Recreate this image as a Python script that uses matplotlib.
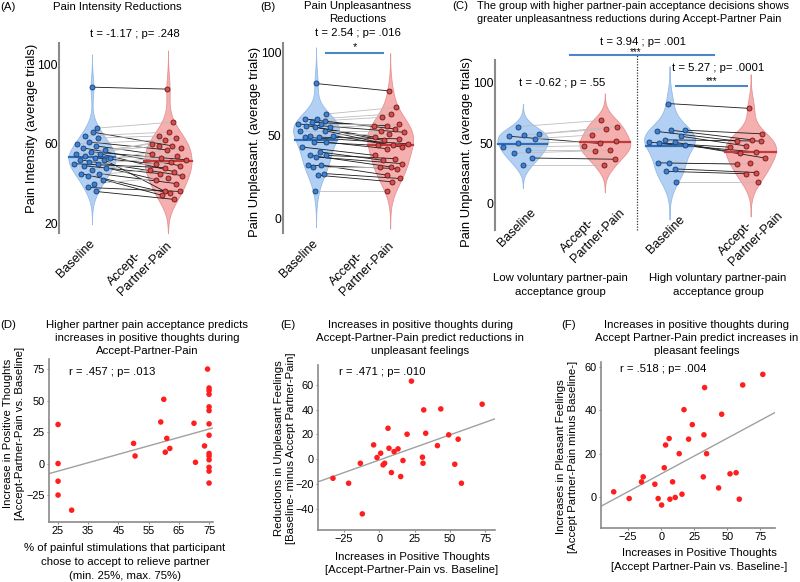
import numpy as np
import matplotlib
matplotlib.use("Agg")
import matplotlib.pyplot as plt

plt.rcParams['font.family'] = ['Liberation Sans', 'DejaVu Sans']
plt.rcParams['font.size'] = 8

W, H = 800, 582

# ---- violin panels: paired values (baseline, accept-partner-pain) ----
a_base = [88.7, 68, 66, 64, 63, 61, 60, 59, 58, 57, 56, 55, 55, 54, 53, 53, 52, 52, 51, 50,
          50, 49, 48, 47, 45, 45, 44, 42, 40, 38, 36]
a_acc = [87.7, 71, 59, 66, 64, 57, 62, 55, 49, 60, 52, 59, 46, 63, 54, 50, 44, 36, 58, 48,
         53, 45, 42, 51, 35, 40, 47, 34, 43, 36, 32]

b_base = [81.5, 63, 60, 60, 59, 58, 57, 57, 56, 55, 55, 53, 53, 50, 50, 49, 49, 46, 46, 43,
          40, 38, 38, 37, 32, 32, 31, 26, 27, 16.5]
b_acc = [77, 67, 63, 54, 61, 56, 52, 57, 49, 56, 47, 53, 44, 51, 43, 48, 45, 42, 44, 38,
         35, 31, 36, 33, 30, 26, 31, 22, 24, 16.5]

low_base = [64, 58, 57, 56, 54, 50, 47, 45, 42, 38, 32]
low_acc = [69, 64, 62, 50, 57, 52, 48, 45, 44, 37, 32]
high_base = [83, 61, 61, 60, 56, 53, 51, 51, 50, 49, 34, 34, 29, 27, 18]
high_acc = [79, 58, 53, 52, 48, 52, 47, 42, 43, 38, 34, 33, 26, 25, 18]

cond_labels = ["Baseline", "Accept-\nPartner-Pain"]

# ---- scatter panels ----
d_x = [25, 25, 25, 25, 29.5, 50, 50.5, 60, 59, 61, 60.5, 62, 70, 70.5, 73.5, 74.5, 75, 75,
       75, 75, 75, 75, 75, 75, 75, 75, 75, 75, 75]
d_y = [31, 0, -14, -25, -37, 16, 6, 51, 33, 20, 9, 12, 32, 1, 14, 75, 60, 58, 55, 45, 42,
       31.5, 22.5, 8, 6, 3, -3, -6, -15.5]
d_fit = [0.668, -22.7]

e_x = [-32.8, -21.7, -13.4, -12, -4, -1.6, 1, 2.7, 3.8, 6.2, 6.9, 8.6, 10.5, 13.3, 15.2,
       16.8, 19.7, 22.8, 30.6, 31, 31.5, 32.9, 41.2, 43.6, 49.2, 53.5, 55.9, 58.2, 72.9]
e_y = [-15.3, -19.3, -3.2, -44, 11.6, 1.4, 4.9, -4.5, -3.2, 25, 8.9, -10.7, 6.2, 8.4, -13.9,
       -1, 20.2, 63, 1.7, -3.2, 39.8, 21, 11, 40.6, 19.7, -4, 16.2, -19.3, 44.4]
e_fit = [0.405, -0.6]

f_x = [-35.9, -24.2, -14.9, -13.6, -4.8, -2.3, 0.3, 2.3, 3.3, 6, 6.6, 8.6, 10.6, 13.6, 15.7,
       17.2, 20.7, 23.5, 31.8, 32.3, 32.8, 34.3, 43.4, 45.7, 52, 56.6, 59, 61.6, 76.8]
f_y = [2.4, -0.7, 7, 9.3, 5.9, -0.7, -3.7, 13.5, 24, 27, -1, 7, -0.2, 20, 1.3, 40.3, 26.7,
       33.4, 9.3, 28.7, 50.5, 20, 4.2, 38.2, 10.7, 11.2, -1, 51.7, 56.6]
f_fit = [0.329, 10.7]

BLUE_FILL, BLUE_EDGE, BLUE_PT, BLUE_PTE, BLUE_MEAN = '#a9cbf2', '#8fb6e6', '#3f7fcc', '#173f78', '#2f6cb8'
RED_FILL, RED_EDGE, RED_PT, RED_PTE, RED_MEAN = '#f4a7a7', '#e58c8c', '#d04f4f', '#6e1717', '#c23a3a'
SPINE = '#8a8a8a'
FS = 8.2

fig = plt.figure(figsize=(W / 100, H / 100), dpi=100)


def add_ax(l, t, r, b):
    return fig.add_axes([l / W, 1 - b / H, (r - l) / W, (b - t) / H])


def ftext(px, py, s, **kw):
    kw.setdefault('ha', 'center')
    kw.setdefault('va', 'center')
    kw.setdefault('fontsize', FS)
    fig.text(px / W, 1 - py / H, s, **kw)


def tick_label(px, py, s):
    # rotated category label, its lower right corner at (px, py)
    ftext(px, py, s, rotation=45, ha='right', va='bottom', rotation_mode='anchor',
          multialignment='left', fontsize=9)


def violin(ax, pos, vals, face, edge, pcol, pedge, mcol, halfw=0.31):
    v = np.asarray(vals, dtype=float)
    bw = 1.06 * v.std(ddof=1) * len(v) ** -0.2
    grid = np.linspace(v.min() - 3 * bw, v.max() + 3 * bw, 400)
    dens = np.exp(-0.5 * ((grid[:, None] - v[None, :]) / bw) ** 2).sum(1)
    scale = halfw / dens.max()
    ax.fill_betweenx(grid, pos - dens * scale, pos + dens * scale, fc=face, ec=edge,
                     lw=0.6, alpha=0.9, zorder=1)
    m = v.mean()
    dm = np.interp(m, grid, dens) * scale
    ax.plot([pos - dm, pos + dm], [m, m], color=mcol, lw=1.6, zorder=3)
    dv = np.interp(v, grid, dens) * scale
    rank = np.argsort(np.argsort(-v))
    jit = ((rank * 0.618034 + 0.3) % 1) * 2 - 1
    xs = pos + jit * dv * 0.85
    ax.scatter(xs, v, s=13, c=pcol, edgecolors=pedge, linewidths=0.6, zorder=4)
    return xs


def paired(ax, p1, p2, base, acc):
    x1 = violin(ax, p1, base, BLUE_FILL, BLUE_EDGE, BLUE_PT, BLUE_PTE, BLUE_MEAN)
    x2 = violin(ax, p2, acc, RED_FILL, RED_EDGE, RED_PT, RED_PTE, RED_MEAN)
    for xa, ya, xb, yb in zip(x1, base, x2, acc):
        col = '#1a1a1a' if yb < ya else '#bdbdbd'
        ax.plot([xa, xb], [ya, yb], color=col, lw=0.6, zorder=2)


def style_violin_ax(ax, xlim, ylim, yticks):
    ax.set_xlim(*xlim)
    ax.set_ylim(*ylim)
    for s in ['top', 'right', 'bottom']:
        ax.spines[s].set_visible(False)
    ax.spines['left'].set_color(SPINE)
    ax.spines['left'].set_linewidth(1.5)
    ax.set_yticks(yticks)
    ax.tick_params(axis='y', length=0, labelsize=8.8, pad=1)
    ax.set_xticks([])
    ax.patch.set_visible(False)


# ---------------- Panel A ----------------
axA = add_ax(59, 43, 205, 233)
paired(axA, 1, 2, a_base, a_acc)
style_violin_ax(axA, (0.566, 2.487), (15, 111), [20, 60, 100])
ftext(32, 128, "Pain Intensity (average trials)", rotation=90, fontsize=9.4)
tick_label(97, 246, cond_labels[0])
tick_label(174, 248, cond_labels[1])
ftext(8, 7, "(A)")
ftext(117, 7, "Pain Intensity Reductions")
ftext(135, 34, "t = -1.17 ; p= .248")

# ---------------- Panel B ----------------
axB = add_ax(283, 43, 425, 233)
paired(axB, 1, 2, b_base, b_acc)
style_violin_ax(axB, (0.554, 2.47), (-9, 106), [0, 50, 100])
ftext(255, 142, "Pain Unpleasant. (average trials)", rotation=90, fontsize=9.4)
tick_label(320, 246, cond_labels[0])
tick_label(396, 248, cond_labels[1])
axB.plot([1.13, 1.9], [100, 100], color='#4a86c8', lw=1.5, clip_on=False)
ftext(355, 47, "*", fontsize=8)
ftext(268, 7, "(B)")
ftext(358, 6, "Pain Unpleasantness")
ftext(358, 19, "Reductions")
ftext(358, 33, "t = 2.54 ; p= .016")

# ---------------- Panel C ----------------
axC = add_ax(495, 60, 790, 230)
paired(axC, 1, 2, low_base, low_acc)
paired(axC, 2.79, 3.78, high_base, high_acc)
style_violin_ax(axC, (0.66, 4.26), (-21.5, 119), [0, 50, 100])
ftext(467, 152, "Pain Unpleasant. (average trials)", rotation=90, fontsize=9.4)
tick_label(538, 215, cond_labels[0])
tick_label(627, 215, cond_labels[1])
tick_label(687, 222, cond_labels[0])
tick_label(785, 218, cond_labels[1])
axC.axvline(2.39, ymin=0, ymax=1.03, color='#333333', lw=0.9, ls=(0, (1, 1.2)), clip_on=False)
axC.plot([1.57, 3.33], [123, 123], color='#4a86c8', lw=1.5, clip_on=False)
axC.plot([2.87, 3.73], [97.5, 97.5], color='#4a86c8', lw=1.5, clip_on=False)
ftext(460, 6, "(C)")
ftext(477, 6, "The group with higher partner-pain acceptance decisions shows", ha='left', fontsize=7.9)
ftext(477, 19, "greater unpleasantness reductions during Accept-Partner Pain", ha='left', fontsize=7.9)
ftext(643, 42, "t = 3.94 ; p= .001")
ftext(636, 52, "***", fontsize=7)
ftext(718, 68, "t = 5.27 ; p= .0001")
ftext(712, 81, "***", fontsize=7)
ftext(562, 83, "t = -0.62 ; p = .55")
ftext(560, 278, "Low voluntary partner-pain")
ftext(560, 292, "acceptance group")
ftext(718, 278, "High voluntary partner-pain")
ftext(718, 292, "acceptance group")


# ---------------- Scatter panels ----------------
def scatter_panel(ax, x, y, fit, xlim, ylim, xticks, yticks):
    ax.scatter(x, y, s=16, c='#ff1e1e', edgecolors='none', zorder=3)
    xx = np.array(xlim)
    ax.plot(xx, fit[0] * xx + fit[1], color='#a0a0a0', lw=1.0, zorder=2)
    ax.set_xlim(*xlim)
    ax.set_ylim(*ylim)
    ax.set_xticks(xticks)
    ax.set_yticks(yticks)
    for s in ['top', 'right']:
        ax.spines[s].set_visible(False)
    for s in ['left', 'bottom']:
        ax.spines[s].set_color(SPINE)
        ax.spines[s].set_linewidth(1.2)
    ax.tick_params(length=1.5, color=SPINE, labelsize=7.9, pad=1.5)
    ax.patch.set_visible(False)


axD = add_ax(49, 359, 213, 522)
scatter_panel(axD, d_x, d_y, d_fit, (22, 76.3), (-46.4, 83), [25, 35, 45, 55, 65, 75], [-25, 0, 25, 50, 75])
ftext(14, 433, "Increase in Positive Thoughts\n[Accept-Partner-Pain vs. Baseline]", rotation=90,
      linespacing=1.15)
axD.text(0.12, 0.92, "r = .457 ; p= .013", transform=axD.transAxes, fontsize=FS, va='center')
ftext(8, 325, "(D)")
ftext(147, 325, "Higher partner pain acceptance predicts")
ftext(147, 338, "increases in positive thoughts during")
ftext(147, 351, "Accept-Partner-Pain")
ftext(125, 548, "% of painful stimulations that participant")
ftext(125, 562, "chose to accept to relieve partner")
ftext(125, 576, "(min. 25%, max. 75%)")

axE = add_ax(318, 365, 495, 530)
scatter_panel(axE, e_x, e_y, e_fit, (-43.4, 82), (-57, 76), [-25, 0, 25, 50, 75], [-40, -20, 0, 20, 40, 60])
ftext(285, 448, "Reductions in Unpleasant Feelings\n[Baseline- minus Accept Partner-Pain]", rotation=90,
      linespacing=1.15)
axE.text(0.12, 0.96, "r = .471 ; p= .010", transform=axE.transAxes, fontsize=FS, va='center')
ftext(288, 325, "(E)")
ftext(420, 325, "Increases in positive thoughts during")
ftext(420, 338, "Accept-Partner-Pain predict reductions in")
ftext(420, 351, "unpleasant feelings")
ftext(412, 557, "Increases in Positive Thoughts")
ftext(412, 570, "[Accept-Partner-Pain vs. Baseline]")

axF = add_ax(601, 362, 775, 528)
scatter_panel(axF, f_x, f_y, f_fit, (-45.5, 86), (-14.3, 62.3), [-25, 0, 25, 50, 75], [0, 20, 40, 60])
ftext(567, 457, "Increases in Pleasant Feelings\n[Accept Partner-Pain minus Baseline-]", rotation=90,
      linespacing=1.15)
axF.text(0.11, 0.96, "r = .518 ; p= .004", transform=axF.transAxes, fontsize=FS, va='center')
ftext(569, 325, "(F)")
ftext(697, 325, "Increases in positive thoughts during")
ftext(697, 338, "Accept Partner-Pain predict increases in")
ftext(697, 351, "pleasant feelings")
ftext(699, 553, "Increases in Positive Thoughts")
ftext(699, 567, "[Accept Partner-Pain vs. Baseline-]")

fig.savefig("out.png", dpi=100)
